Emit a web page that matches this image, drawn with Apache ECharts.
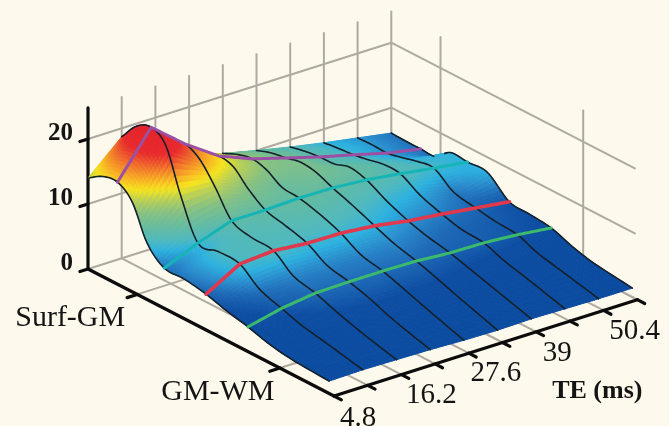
<!DOCTYPE html>
<html><head><meta charset="utf-8">
<style>html,body{margin:0;padding:0;background:#fdf9ec}#c{width:669px;height:426px}</style>
<script src="https://cdn.jsdelivr.net/npm/echarts@6/dist/echarts.min.js"></script>
</head><body><div id="c"></div>
<script>
// ---------- DATA ----------
const teValues = [4.8, 10.5, 16.2, 21.9, 27.6, 33.3, 39, 44.7, 50.4, 56.1];
const teLabels = [4.8, 16.2, 27.6, 39, 50.4];
const signalTicks = [0, 10, 20];
const depthNames = ['Surf-GM', 'GM-WM'];
const depthNameFractions = [0.2, 0.78];
const depthFractions = [0, 0.06, 0.12, 0.18, 0.24, 0.31, 0.39, 0.48, 0.56, 0.65, 0.73, 0.82, 0.98];
const d000 = [14.0, 18.7, 15.5, 12.5, 11.2, 10.0, 8.9, 7.9, 7.0, 6.1];
const d006 = [15.4, 21.5, 17.5, 14.0, 12.2, 10.8, 9.4, 8.2, 7.1, 6.0];
const d012 = [15.7, 22.5, 18.3, 14.8, 12.7, 11.2, 9.7, 8.4, 7.0, 6.0];
const d018 = [13.8, 20.8, 17.1, 14.3, 12.1, 11.7, 9.8, 8.8, 7.5, 6.0];
const d024 = [8.7, 14.3, 14.2, 12.1, 10.7, 11.4, 10.5, 9.3, 8.1, 7.8];
const d031 = [6.2, 8.4, 10.2, 10.2, 10.4, 10.3, 9.9, 9.2, 8.4, 7.7];
const d039 = [6.1, 8.7, 9.2, 9.4, 9.6, 9.2, 8.3, 7.5, 6.3, 7.7];
const d048 = [5.5, 8.5, 8.9, 8.4, 8.3, 7.8, 6.9, 6.3, 5.6, 4.9];
const d056 = [4.6, 6.2, 6.6, 6.6, 6.6, 6.6, 6.0, 5.5, 5.1, 4.6];
const d065 = [3.8, 5.0, 5.7, 5.8, 5.8, 5.7, 5.3, 5.2, 4.8, 4.2];
const d073 = [2.9, 4.0, 4.6, 4.9, 4.8, 4.7, 4.4, 4.1, 3.6, 3.1];
const d082 = [2.3, 3.3, 3.5, 3.6, 3.6, 3.5, 3.4, 3.2, 2.8, 2.2];
const d098 = [1.9, 2.0, 1.9, 1.8, 1.6, 1.5, 1.6, 1.5, 1.4, 1.4];
const signal = [d000, d006, d012, d018, d024, d031, d039, d048, d056, d065, d073, d082, d098];
// depth rows that carry a coloured contour
const contourRows = [2, 5, 7, 9];
const contourColors = ['#9c50a4', '#17b4b6', '#e0384c', '#3cb96c'];
const contourWidths = [3, 3, 3.6, 3];

// ---------- LAYOUT ----------
const BG = '#fdf9ec';
const ORIGIN = [88, 269], DEPTH_VEC = [246, 127], TE_STEP = [33.7, -10.7], Z_UNIT = 6.5, Z_TOP = 24.8;
const teLabelOffsets = [[24, 22], [30, 21], [27, 20], [21, 22], [31, 21]];
const depthLabelOffsets = [[-67, 24], [-62, 24]];
const SUB_ROW = 8, SUB_COL = 16;
const teIdx = te => (te - teValues[0]) / (teValues[1] - teValues[0]);
function proj(i, u, z) {
  return [ORIGIN[0] + DEPTH_VEC[0] * u + TE_STEP[0] * i,
          ORIGIN[1] + DEPTH_VEC[1] * u + TE_STEP[1] * i - Z_UNIT * z];
}
// colour ramp
const rampZ = [0, 4.5, 5.8, 6.8, 7.8, 8.8, 10.2, 12.2, 13.8, 15.2, 16.4, 18, 19.6, 25];
const rampC = [[10,74,158],[13,78,163],[31,107,184],[43,143,206],[45,178,224],[79,185,192],[98,187,164],
               [134,193,132],[182,207,90],[246,228,31],[248,179,37],[240,111,44],[232,42,46],[224,32,42]];
function colorOf(z) {
  let k = 0; while (k < rampZ.length - 2 && z > rampZ[k + 1]) k++;
  const t = Math.max(0, Math.min(1, (z - rampZ[k]) / (rampZ[k + 1] - rampZ[k])));
  const c = rampC[k].map((v, j) => Math.round(v + (rampC[k + 1][j] - v) * t));
  return 'rgb(' + c.join(',') + ')';
}
// Smooth display mesh between the read values (surface shading only)
function hermite(col, r, t) {
  const U = depthFractions, n = U.length;
  const val = k => signal[k][col];
  const slope = k => k <= 0 ? (val(1) - val(0)) / (U[1] - U[0])
    : k >= n - 1 ? (val(n - 1) - val(n - 2)) / (U[n - 1] - U[n - 2])
    : (val(k + 1) - val(k - 1)) / (U[k + 1] - U[k - 1]);
  const h = U[r + 1] - U[r], a = val(r), b = val(r + 1);
  const m0 = slope(r) * h, m1 = slope(r + 1) * h;
  const t2 = t * t, t3 = t2 * t;
  return (2*t3 - 3*t2 + 1) * a + (t3 - 2*t2 + t) * m0 + (-2*t3 + 3*t2) * b + (t3 - t2) * m1;
}
const rowsN = (depthFractions.length - 1) * SUB_ROW, colsN = (teValues.length - 1) * SUB_COL;
const mesh = [];
for (let r = 0; r <= rowsN; r++) {
  const base = Math.min(Math.floor(r / SUB_ROW), depthFractions.length - 2);
  const t = r / SUB_ROW - base;
  const u = depthFractions[base] + (depthFractions[base + 1] - depthFractions[base]) * t;
  const row = [];
  for (let c = 0; c <= colsN; c++) {
    const cb = Math.min(Math.floor(c / SUB_COL), teValues.length - 2);
    const s = c / SUB_COL - cb;
    const z = hermite(cb, base, t) * (1 - s) + hermite(cb + 1, base, t) * s;
    row.push({ i: c / SUB_COL, u, z, p: proj(c / SUB_COL, u, z) });
  }
  mesh.push(row);
}
const quadOrder = [];
for (let r = 0; r < rowsN; r++) for (let c = colsN - 1; c >= 0; c--) quadOrder.push([r, c]);

// Hidden-line test: walk from a surface point towards the viewer along the view ray
const RAY_I = -DEPTH_VEC[0] / TE_STEP[0];                     // di per unit du
const RAY_Z = (DEPTH_VEC[1] + TE_STEP[1] * RAY_I) / Z_UNIT;   // dz per unit du
function surfaceZ(i, u) {
  let r = 0; while (r < rowsN - 1 && mesh[r + 1][0].u <= u) r++;
  const t = (u - mesh[r][0].u) / (mesh[r + 1][0].u - mesh[r][0].u);
  const cf = i * SUB_COL, c = Math.min(Math.floor(cf), colsN - 1), s = cf - c;
  return (mesh[r][c].z * (1 - s) + mesh[r][c + 1].z * s) * (1 - t) +
         (mesh[r + 1][c].z * (1 - s) + mesh[r + 1][c + 1].z * s) * t;
}
function visible(v) {
  const uEnd = depthFractions[depthFractions.length - 1];
  for (let d = 0.006; ; d += 0.003) {
    const u = v.u + d, i = v.i + RAY_I * d;
    if (u > uEnd || i < 0 || i > teValues.length - 1) return true;
    if (surfaceZ(i, u) > v.z + RAY_Z * d + 0.12) return false;
  }
}
function runsOf(verts, color, width) {
  const runs = []; let cur = null;
  verts.forEach(v => {
    if (visible(v)) { if (!cur) { cur = { pts: [], color, width }; runs.push(cur); } cur.pts.push(v.p); }
    else cur = null;
  });
  return runs.filter(x => x.pts.length > 1);
}
const lineRuns = [];
teValues.forEach((te, i) => {
  lineRuns.push(...runsOf(mesh.map(row => row[i * SUB_COL]), '#14202a', 1.6));
});
contourRows.forEach((k, n) => {
  lineRuns.push(...runsOf(mesh[k * SUB_ROW], contourColors[n], contourWidths[n]));
});

// ---------- static frame segments ----------
const nI = teValues.length - 1;
const grey = [], dark = [];
signalTicks.forEach(z => {
  grey.push([0, 0, z, nI, 0, z]);      // left/back wall
  grey.push([nI, 0, z, nI, 0.99, z]);  // right wall
});
teValues.forEach((te, i) => {
  if (i > 0) grey.push([i, 0, 0, i, 0, Z_TOP]);
  if (i > 0) grey.push([i, 0, 0, i, 1, 0]);
});
depthNameFractions.forEach(u => {
  grey.push([nI, u, 0, nI, u, Z_TOP]);
  grey.push([0, u, 0, nI, u, 0]);
});
dark.push([0, 0, 0, 0, 0, Z_TOP], [0, 0, 0, 0, 1, 0], [0, 1, 0, nI, 1, 0]);
signalTicks.forEach(z => dark.push([0, 0, z, -0.24, 0, z]));
teValues.forEach((te, i) => dark.push([i, 1, 0, i, 1.03, 0]));
depthNameFractions.forEach(u => dark.push([0, u, 0, -0.3, u, 0]));

function segSeries(list, color, width, name) {
  return {
    type: 'custom', name, coordinateSystem: 'cartesian2d', silent: true, animation: false, clip: false,
    data: list.map((d, k) => [k, 0]), progressive: 0,
    renderItem(params, api) {
      const s = list[api.value(0)];
      const a = api.coord(proj(s[0], s[1], s[2])), b = api.coord(proj(s[3], s[4], s[5]));
      return { type: 'line', shape: { x1: a[0], y1: a[1], x2: b[0], y2: b[1] },
               style: { stroke: color, lineWidth: width, lineCap: 'round' } };
    }
  };
}
const labels = [];
signalTicks.forEach(z => labels.push({ t: String(z), p: proj(0, 0, z), o: [-15, -5], f: 'bold 25px "Liberation Serif"', a: 'right' }));
teLabels.forEach((te, k) => labels.push({ t: String(te), p: proj(teIdx(te), 1, 0), o: teLabelOffsets[k], f: '29px "Liberation Serif"', a: 'center' }));
depthNames.forEach((n, k) => labels.push({ t: n, p: proj(0, depthNameFractions[k], 0), o: depthLabelOffsets[k], f: '30px "Liberation Serif"', a: 'center' }));
labels.push({ t: 'TE (ms)', p: proj(nI, 1, 0), o: [-40, 92], f: 'bold 26px "Liberation Serif"', a: 'center' });

const chart = echarts.init(document.getElementById('c'), null, { renderer: 'canvas' });
chart.setOption({
  backgroundColor: BG,
  animation: false,
  tooltip: { show: false },
  grid: { left: 0, right: 0, top: 0, bottom: 0 },
  xAxis: { type: 'value', min: 0, max: 669, show: false },
  yAxis: { type: 'value', min: 0, max: 426, inverse: true, show: false },
  series: [
    segSeries(grey, '#aeaaa1', 2, 'grid'),
    segSeries(dark, '#0c0c0c', 3.2, 'axes'),
    {
      type: 'custom', name: 'surface', coordinateSystem: 'cartesian2d', silent: true, animation: false, clip: false,
      progressive: 0, data: quadOrder,
      renderItem(params, api) {
        const r = api.value(0), c = api.value(1);
        const A = mesh[r][c], B = mesh[r][c + 1], C = mesh[r + 1][c + 1], D = mesh[r + 1][c];
        const P = [A, B, C, D].map(v => api.coord(v.p));
        const col = colorOf((A.z + B.z + C.z + D.z) / 4);
        return { type: 'polygon', shape: { points: P },
          style: { fill: col, stroke: col, lineWidth: 1 } };
      }
    },
    {
      type: 'custom', name: 'curves', coordinateSystem: 'cartesian2d', silent: true, animation: false, clip: false,
      progressive: 0, data: lineRuns.map((l, k) => [k, 0]),
      renderItem(params, api) {
        const l = lineRuns[api.value(0)];
        return { type: 'polyline', shape: { points: l.pts.map(p => api.coord(p)) },
          style: { fill: 'none', stroke: l.color, lineWidth: l.width, lineCap: 'round', lineJoin: 'round' } };
      }
    },
    {
      type: 'custom', name: 'labels', coordinateSystem: 'cartesian2d', silent: true, animation: false, clip: false,
      data: labels.map((l, k) => [k, 0]),
      renderItem(params, api) {
        const l = labels[api.value(0)], a = api.coord(l.p);
        return { type: 'text', style: { x: a[0] + l.o[0], y: a[1] + l.o[1], text: l.t, font: l.f,
          fill: '#141414', align: l.a, verticalAlign: 'middle' } };
      }
    }
  ]
});
</script></body></html>
